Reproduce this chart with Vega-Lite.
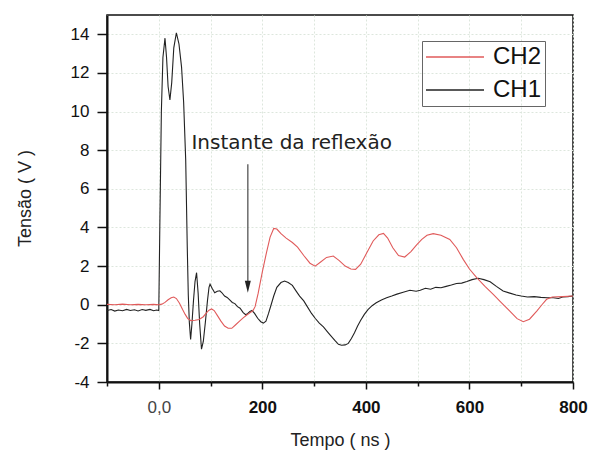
{
  "$schema": "https://vega.github.io/schema/vega-lite/v6.json",
  "width": 466,
  "height": 367,
  "autosize": "none",
  "padding": {"left": 107, "top": 15, "right": 19, "bottom": 79},
  "background": "white",
  "config": {
    "view": {"stroke": "#111111", "strokeWidth": 1.5},
    "font": "Liberation Sans"
  },
  "datasets": {
    "signals": [
      {"ch":"CH1","t":-100,"v":-0.3},{"ch":"CH1","t":-92,"v":-0.25},{"ch":"CH1","t":-85,"v":-0.33},{"ch":"CH1","t":-78,"v":-0.27},{"ch":"CH1","t":-70,"v":-0.31},{"ch":"CH1","t":-62,"v":-0.24},{"ch":"CH1","t":-55,"v":-0.3},{"ch":"CH1","t":-47,"v":-0.26},{"ch":"CH1","t":-40,"v":-0.32},{"ch":"CH1","t":-32,"v":-0.25},{"ch":"CH1","t":-25,"v":-0.29},{"ch":"CH1","t":-17,"v":-0.24},{"ch":"CH1","t":-10,"v":-0.31},{"ch":"CH1","t":-4,"v":-0.27},{"ch":"CH1","t":0,"v":-0.3},{"ch":"CH1","t":2,"v":4.0},{"ch":"CH1","t":5,"v":10.0},{"ch":"CH1","t":8,"v":12.8},{"ch":"CH1","t":12,"v":13.8},{"ch":"CH1","t":15,"v":12.8},{"ch":"CH1","t":18,"v":11.3},{"ch":"CH1","t":21.5,"v":10.6},{"ch":"CH1","t":25,"v":11.5},{"ch":"CH1","t":29,"v":13.3},{"ch":"CH1","t":34,"v":14.08},{"ch":"CH1","t":39,"v":13.5},{"ch":"CH1","t":44,"v":12.3},{"ch":"CH1","t":48,"v":10.5},{"ch":"CH1","t":52,"v":7.5},{"ch":"CH1","t":55,"v":3.0},{"ch":"CH1","t":57,"v":0.5},{"ch":"CH1","t":59,"v":-0.9},{"ch":"CH1","t":61.5,"v":-1.8},{"ch":"CH1","t":64,"v":-1.0},{"ch":"CH1","t":67,"v":0.2},{"ch":"CH1","t":70,"v":1.2},{"ch":"CH1","t":73,"v":1.66},{"ch":"CH1","t":76,"v":0.6},{"ch":"CH1","t":79,"v":-1.0},{"ch":"CH1","t":82.5,"v":-2.3},{"ch":"CH1","t":86,"v":-1.9},{"ch":"CH1","t":90,"v":-0.9},{"ch":"CH1","t":94,"v":0.2},{"ch":"CH1","t":97,"v":0.9},{"ch":"CH1","t":99,"v":1.06},{"ch":"CH1","t":103,"v":0.85},{"ch":"CH1","t":108,"v":0.62},{"ch":"CH1","t":113,"v":0.7},{"ch":"CH1","t":118,"v":0.72},{"ch":"CH1","t":122,"v":0.62},{"ch":"CH1","t":127,"v":0.45},{"ch":"CH1","t":132,"v":0.38},{"ch":"CH1","t":137,"v":0.25},{"ch":"CH1","t":142,"v":0.12},{"ch":"CH1","t":147,"v":0.06},{"ch":"CH1","t":152,"v":-0.1},{"ch":"CH1","t":157,"v":-0.18},{"ch":"CH1","t":163,"v":-0.41},{"ch":"CH1","t":168,"v":-0.52},{"ch":"CH1","t":172,"v":-0.45},{"ch":"CH1","t":176,"v":-0.35},{"ch":"CH1","t":180,"v":-0.3},{"ch":"CH1","t":185,"v":-0.45},{"ch":"CH1","t":191,"v":-0.7},{"ch":"CH1","t":197,"v":-0.88},{"ch":"CH1","t":202,"v":-0.95},{"ch":"CH1","t":207,"v":-0.85},{"ch":"CH1","t":212,"v":-0.45},{"ch":"CH1","t":217,"v":0.0},{"ch":"CH1","t":222,"v":0.45},{"ch":"CH1","t":228,"v":0.9},{"ch":"CH1","t":236,"v":1.15},{"ch":"CH1","t":243,"v":1.23},{"ch":"CH1","t":250,"v":1.15},{"ch":"CH1","t":258,"v":1.0},{"ch":"CH1","t":265,"v":0.72},{"ch":"CH1","t":272,"v":0.45},{"ch":"CH1","t":280,"v":0.2},{"ch":"CH1","t":288,"v":-0.15},{"ch":"CH1","t":295,"v":-0.45},{"ch":"CH1","t":302,"v":-0.7},{"ch":"CH1","t":310,"v":-0.95},{"ch":"CH1","t":318,"v":-1.15},{"ch":"CH1","t":325,"v":-1.38},{"ch":"CH1","t":332,"v":-1.6},{"ch":"CH1","t":340,"v":-1.85},{"ch":"CH1","t":347,"v":-2.05},{"ch":"CH1","t":353,"v":-2.1},{"ch":"CH1","t":360,"v":-2.08},{"ch":"CH1","t":366,"v":-2.0},{"ch":"CH1","t":372,"v":-1.75},{"ch":"CH1","t":378,"v":-1.45},{"ch":"CH1","t":384,"v":-1.1},{"ch":"CH1","t":390,"v":-0.8},{"ch":"CH1","t":397,"v":-0.5},{"ch":"CH1","t":404,"v":-0.25},{"ch":"CH1","t":412,"v":-0.05},{"ch":"CH1","t":420,"v":0.1},{"ch":"CH1","t":430,"v":0.25},{"ch":"CH1","t":440,"v":0.36},{"ch":"CH1","t":450,"v":0.45},{"ch":"CH1","t":460,"v":0.55},{"ch":"CH1","t":472,"v":0.65},{"ch":"CH1","t":485,"v":0.75},{"ch":"CH1","t":497,"v":0.7},{"ch":"CH1","t":505,"v":0.75},{"ch":"CH1","t":515,"v":0.85},{"ch":"CH1","t":525,"v":0.8},{"ch":"CH1","t":535,"v":0.9},{"ch":"CH1","t":545,"v":0.88},{"ch":"CH1","t":555,"v":0.95},{"ch":"CH1","t":565,"v":1.02},{"ch":"CH1","t":575,"v":1.1},{"ch":"CH1","t":585,"v":1.12},{"ch":"CH1","t":595,"v":1.2},{"ch":"CH1","t":605,"v":1.3},{"ch":"CH1","t":617,"v":1.37},{"ch":"CH1","t":628,"v":1.3},{"ch":"CH1","t":640,"v":1.19},{"ch":"CH1","t":652,"v":0.95},{"ch":"CH1","t":665,"v":0.71},{"ch":"CH1","t":678,"v":0.6},{"ch":"CH1","t":690,"v":0.5},{"ch":"CH1","t":700,"v":0.45},{"ch":"CH1","t":712,"v":0.4},{"ch":"CH1","t":725,"v":0.42},{"ch":"CH1","t":738,"v":0.38},{"ch":"CH1","t":750,"v":0.36},{"ch":"CH1","t":762,"v":0.36},{"ch":"CH1","t":772,"v":0.32},{"ch":"CH1","t":780,"v":0.4},{"ch":"CH1","t":790,"v":0.42},{"ch":"CH1","t":800,"v":0.45},
      {"ch":"CH2","t":-100,"v":0.02},{"ch":"CH2","t":-85,"v":0.0},{"ch":"CH2","t":-70,"v":0.03},{"ch":"CH2","t":-55,"v":0.0},{"ch":"CH2","t":-40,"v":0.02},{"ch":"CH2","t":-25,"v":0.0},{"ch":"CH2","t":-10,"v":0.02},{"ch":"CH2","t":0,"v":0.0},{"ch":"CH2","t":6,"v":0.03},{"ch":"CH2","t":12,"v":0.12},{"ch":"CH2","t":18,"v":0.26},{"ch":"CH2","t":24,"v":0.36},{"ch":"CH2","t":29,"v":0.4},{"ch":"CH2","t":34,"v":0.32},{"ch":"CH2","t":40,"v":0.08},{"ch":"CH2","t":46,"v":-0.25},{"ch":"CH2","t":51,"v":-0.5},{"ch":"CH2","t":56,"v":-0.72},{"ch":"CH2","t":62,"v":-0.82},{"ch":"CH2","t":70,"v":-0.8},{"ch":"CH2","t":78,"v":-0.76},{"ch":"CH2","t":86,"v":-0.62},{"ch":"CH2","t":92,"v":-0.42},{"ch":"CH2","t":97,"v":-0.28},{"ch":"CH2","t":102,"v":-0.22},{"ch":"CH2","t":107,"v":-0.3},{"ch":"CH2","t":113,"v":-0.55},{"ch":"CH2","t":120,"v":-0.85},{"ch":"CH2","t":127,"v":-1.1},{"ch":"CH2","t":134,"v":-1.22},{"ch":"CH2","t":141,"v":-1.22},{"ch":"CH2","t":148,"v":-1.05},{"ch":"CH2","t":156,"v":-0.85},{"ch":"CH2","t":163,"v":-0.68},{"ch":"CH2","t":170,"v":-0.53},{"ch":"CH2","t":176,"v":-0.42},{"ch":"CH2","t":182,"v":-0.3},{"ch":"CH2","t":186,"v":-0.1},{"ch":"CH2","t":192,"v":0.6},{"ch":"CH2","t":200,"v":1.7},{"ch":"CH2","t":208,"v":2.7},{"ch":"CH2","t":215,"v":3.5},{"ch":"CH2","t":222,"v":3.95},{"ch":"CH2","t":228,"v":3.92},{"ch":"CH2","t":236,"v":3.68},{"ch":"CH2","t":246,"v":3.45},{"ch":"CH2","t":258,"v":3.22},{"ch":"CH2","t":268,"v":2.98},{"ch":"CH2","t":280,"v":2.55},{"ch":"CH2","t":292,"v":2.15},{"ch":"CH2","t":302,"v":2.0},{"ch":"CH2","t":312,"v":2.2},{"ch":"CH2","t":324,"v":2.45},{"ch":"CH2","t":337,"v":2.52},{"ch":"CH2","t":348,"v":2.3},{"ch":"CH2","t":360,"v":2.0},{"ch":"CH2","t":371,"v":1.85},{"ch":"CH2","t":380,"v":1.83},{"ch":"CH2","t":390,"v":2.1},{"ch":"CH2","t":402,"v":2.7},{"ch":"CH2","t":414,"v":3.3},{"ch":"CH2","t":425,"v":3.62},{"ch":"CH2","t":434,"v":3.69},{"ch":"CH2","t":442,"v":3.45},{"ch":"CH2","t":452,"v":2.95},{"ch":"CH2","t":463,"v":2.55},{"ch":"CH2","t":475,"v":2.47},{"ch":"CH2","t":487,"v":2.75},{"ch":"CH2","t":498,"v":3.1},{"ch":"CH2","t":508,"v":3.38},{"ch":"CH2","t":518,"v":3.6},{"ch":"CH2","t":530,"v":3.68},{"ch":"CH2","t":545,"v":3.6},{"ch":"CH2","t":562,"v":3.38},{"ch":"CH2","t":575,"v":2.95},{"ch":"CH2","t":588,"v":2.35},{"ch":"CH2","t":600,"v":1.85},{"ch":"CH2","t":614,"v":1.4},{"ch":"CH2","t":630,"v":0.95},{"ch":"CH2","t":646,"v":0.54},{"ch":"CH2","t":662,"v":0.1},{"ch":"CH2","t":678,"v":-0.33},{"ch":"CH2","t":692,"v":-0.72},{"ch":"CH2","t":704,"v":-0.88},{"ch":"CH2","t":716,"v":-0.75},{"ch":"CH2","t":730,"v":-0.33},{"ch":"CH2","t":740,"v":0.0},{"ch":"CH2","t":749,"v":0.28},{"ch":"CH2","t":760,"v":0.4},{"ch":"CH2","t":780,"v":0.42},{"ch":"CH2","t":800,"v":0.45}
    ],
    "note": [
      {"x": 172, "ytop": 7.27, "ybot": 1.2, "ytip": 0.93, "tx": 63, "ty": 8.04, "label": "Instante da reflexão"}
    ]
  },
  "layer": [
    {
      "data": {"name": "signals"},
      "mark": {"type": "line", "strokeWidth": 1.1},
      "encoding": {
        "x": {
          "field": "t", "type": "quantitative",
          "scale": {"domain": [-100, 800], "nice": false, "zero": false},
          "axis": {
            "values": [-100, 0, 100, 200, 300, 400, 500, 600, 700, 800],
            "labelExpr": "datum.value == 0 ? '0,0' : ((datum.value > 0 && datum.value % 200 == 0) ? datum.value : '')",
            "labelFontSize": 17,
            "labelFontWeight": {"condition": {"test": "datum.value == 0", "value": "normal"}, "value": "bold"},
            "labelColor": {"condition": {"test": "datum.value == 0", "value": "#444444"}, "value": "#111111"},
            "labelPadding": 10,
            "labelFlush": false,
            "labelOverlap": false,
            "tickSize": {"condition": {"test": "datum.value % 200 == 0", "value": 7}, "value": 4},
            "tickWidth": 1.5,
            "tickColor": "#111111",
            "domainColor": "#111111",
            "domainWidth": 2,
            "grid": true,
            "gridColor": "#dde6dd",
            "gridDash": [2, 2],
            "gridWidth": 1,
            "title": "Tempo ( ns )",
            "titleFontSize": 18,
            "titleFontWeight": "normal",
            "titleColor": "#222222",
            "titleX": 233,
            "titleY": 58,
            "titleAlign": "center",
            "titleBaseline": "middle"
          }
        },
        "y": {
          "field": "v", "type": "quantitative",
          "scale": {"domain": [-4, 15], "nice": false, "zero": false},
          "axis": {
            "values": [-4, -3, -2, -1, 0, 1, 2, 3, 4, 5, 6, 7, 8, 9, 10, 11, 12, 13, 14],
            "labelExpr": "datum.value % 2 == 0 ? datum.value : ''",
            "labelFontSize": 17,
            "labelColor": "#111111",
            "labelPadding": 8,
            "labelFlush": false,
            "labelOverlap": false,
            "tickSize": {"condition": {"test": "datum.value % 2 == 0", "value": 10}, "value": 5},
            "tickWidth": 1.5,
            "tickColor": "#111111",
            "domainColor": "#111111",
            "domainWidth": 2,
            "grid": true,
            "gridColor": "#dde6dd",
            "gridDash": [2, 2],
            "gridWidth": 1,
            "title": "Tensão ( V )",
            "titleFontSize": 18,
            "titleFontWeight": "normal",
            "titleColor": "#222222",
            "titleX": -82,
            "titleY": 183,
            "titleAngle": 270,
            "titleAlign": "center",
            "titleBaseline": "middle"
          }
        },
        "color": {
          "field": "ch", "type": "nominal",
          "scale": {"domain": ["CH2", "CH1"], "range": ["#e05a5a", "#222222"]},
          "legend": {
            "title": null,
            "orient": "none",
            "legendX": 315,
            "legendY": 26,
            "symbolType": "stroke",
            "symbolSize": 3364,
            "symbolStrokeWidth": 1.5,
            "clipHeight": 26,
            "labelFontSize": 24,
            "labelFont": "Liberation Sans",
            "labelColor": "#111111",
            "labelOffset": 8,
            "labelBaseline": "middle",
            "strokeColor": "#666666",
            "padding": 3,
            "rowPadding": 7
          }
        }
      }
    },
    {
      "data": {"name": "note"},
      "mark": {"type": "rule", "color": "#555555", "strokeWidth": 1.3},
      "encoding": {
        "x": {"field": "x", "type": "quantitative"},
        "y": {"field": "ytop", "type": "quantitative"},
        "y2": {"field": "ybot"}
      }
    },
    {
      "data": {"name": "note"},
      "mark": {"type": "point", "shape": "M-0.5,-1L0.5,-1L0,1Z", "filled": true, "color": "#222222", "size": 144, "opacity": 1},
      "encoding": {
        "x": {"field": "x", "type": "quantitative"},
        "y": {"field": "ytip", "type": "quantitative"}
      }
    },
    {
      "data": {"name": "note"},
      "mark": {"type": "text", "align": "left", "baseline": "alphabetic", "font": "DejaVu Sans", "fontSize": 20, "color": "#222222"},
      "encoding": {
        "x": {"field": "tx", "type": "quantitative"},
        "y": {"field": "ty", "type": "quantitative"},
        "text": {"field": "label"}
      }
    }
  ]
}
